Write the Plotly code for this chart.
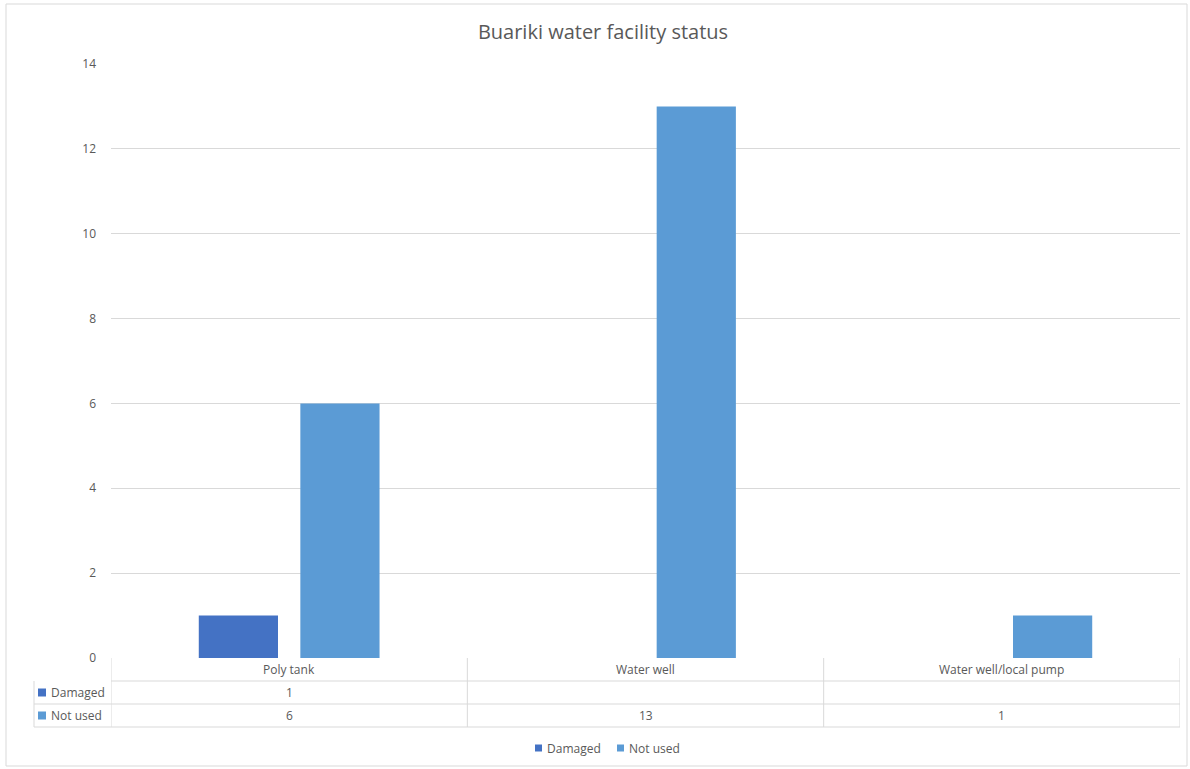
import plotly.graph_objects as go

# Chart data
title = "Buariki water facility status"
categories = ["Poly tank", "Water well", "Water well/local pump"]
series_names = ["Damaged", "Not used"]
damaged = [1, None, None]
not_used = [6, 13, 1]
y_ticks = [0, 2, 4, 6, 8, 10, 12, 14]

colors = ["#4472C4", "#5B9BD5"]
text_color = "#595959"
grid_color = "#D9D9D9"
font_family = "Open Sans, Lato, sans-serif"

W, H = 1190, 769
m_l, m_r, m_t, m_b = 111, 10, 64, 111
plot_w = W - m_l - m_r
plot_h = H - m_t - m_b


def py(px):
    """Convert a pixel row to paper y coordinate."""
    return (H - m_b - px) / plot_h


def px_x(px):
    """Convert a pixel column to paper x coordinate."""
    return (px - m_l) / plot_w


fig = go.Figure()
for name, vals, col in zip(series_names, [damaged, not_used], colors):
    fig.add_trace(go.Bar(
        name=name, x=categories, y=vals, marker=dict(color=col, line=dict(width=0)),
        hoverinfo="x+y+name", showlegend=False,
    ))

shapes = []
annotations = []
line_style = dict(color=grid_color, width=1)
small_font = dict(size=12, color=text_color, family=font_family)

# Data table under the plot area
row_lines = [py(681), py(704), py(727)]
y_bottom = row_lines[-1]
shapes.append(dict(type="line", xref="x", yref="paper", x0=-0.5, x1=2.5,
                   y0=row_lines[0], y1=row_lines[0], line=line_style))
for yl in row_lines[1:]:
    shapes.append(dict(type="line", xref="paper", yref="paper", x0=px_x(34), x1=1,
                       y0=yl, y1=yl, line=line_style))
for xv in [-0.5, 0.5, 1.5, 2.5]:
    shapes.append(dict(type="line", xref="x", yref="paper", x0=xv, x1=xv, y0=0, y1=y_bottom,
                       line=line_style))
shapes.append(dict(type="line", xref="paper", yref="paper", x0=px_x(34), x1=px_x(34),
                   y0=row_lines[0], y1=y_bottom, line=line_style))

# category header row
for i, c in enumerate(categories):
    annotations.append(dict(x=i, y=py(669.5), xref="x", yref="paper", text=c, showarrow=False,
                            xanchor="center", yanchor="middle", font=small_font))

# series rows with key squares
row_centers = [py(692.5), py(715.5)]
for name, vals, col, yc in zip(series_names, [damaged, not_used], colors, row_centers):
    shapes.append(dict(type="rect", xref="paper", yref="paper", x0=px_x(38), x1=px_x(46),
                       y0=yc - 4 / plot_h, y1=yc + 4 / plot_h, fillcolor=col, line=dict(width=0)))
    annotations.append(dict(x=px_x(49), y=yc, xref="paper", yref="paper", text=name,
                            xanchor="left", yanchor="middle", showarrow=False, font=small_font))
    for i, v in enumerate(vals):
        if v is not None:
            annotations.append(dict(x=i, y=yc, xref="x", yref="paper", text=str(v), showarrow=False,
                                    xanchor="center", yanchor="middle", font=small_font))

# legend below the table
legend_y = py(748)
legend_items = [(535, "Damaged"), (617, "Not used")]
for (lx, name), col in zip(legend_items, colors):
    shapes.append(dict(type="rect", xref="paper", yref="paper", x0=px_x(lx), x1=px_x(lx + 7),
                       y0=legend_y - 3.5 / plot_h, y1=legend_y + 3.5 / plot_h,
                       fillcolor=col, line=dict(width=0)))
    annotations.append(dict(x=px_x(lx + 10), y=legend_y, xref="paper", yref="paper", text=name,
                            xanchor="left", yanchor="middle", showarrow=False, font=small_font))

# outer chart border
shapes.append(dict(type="rect", xref="paper", yref="paper",
                   x0=px_x(6), x1=px_x(1187), y0=py(766), y1=py(4),
                   line=line_style, fillcolor="rgba(0,0,0,0)"))

fig.update_layout(
    width=W, height=H,
    margin=dict(l=m_l, r=m_r, t=m_t, b=m_b, autoexpand=False),
    paper_bgcolor="white", plot_bgcolor="white",
    title=dict(text=title, x=px_x(603), xref="paper", xanchor="center",
               y=1 - 32 / H, yanchor="middle",
               font=dict(size=20, color=text_color, family=font_family)),
    barmode="group", bargap=0.43, bargroupgap=0.22,
    xaxis=dict(range=[-0.5, 2.5], showticklabels=False, showgrid=False, zeroline=False,
               showline=False, ticks=""),
    yaxis=dict(range=[0, 14], tickvals=y_ticks, showgrid=True, gridcolor=grid_color, gridwidth=1,
               zeroline=False, showline=False, ticks="", ticklabelstandoff=14,
               tickfont=small_font),
    showlegend=False,
    shapes=shapes, annotations=annotations,
)

fig.write_html("out.html")
